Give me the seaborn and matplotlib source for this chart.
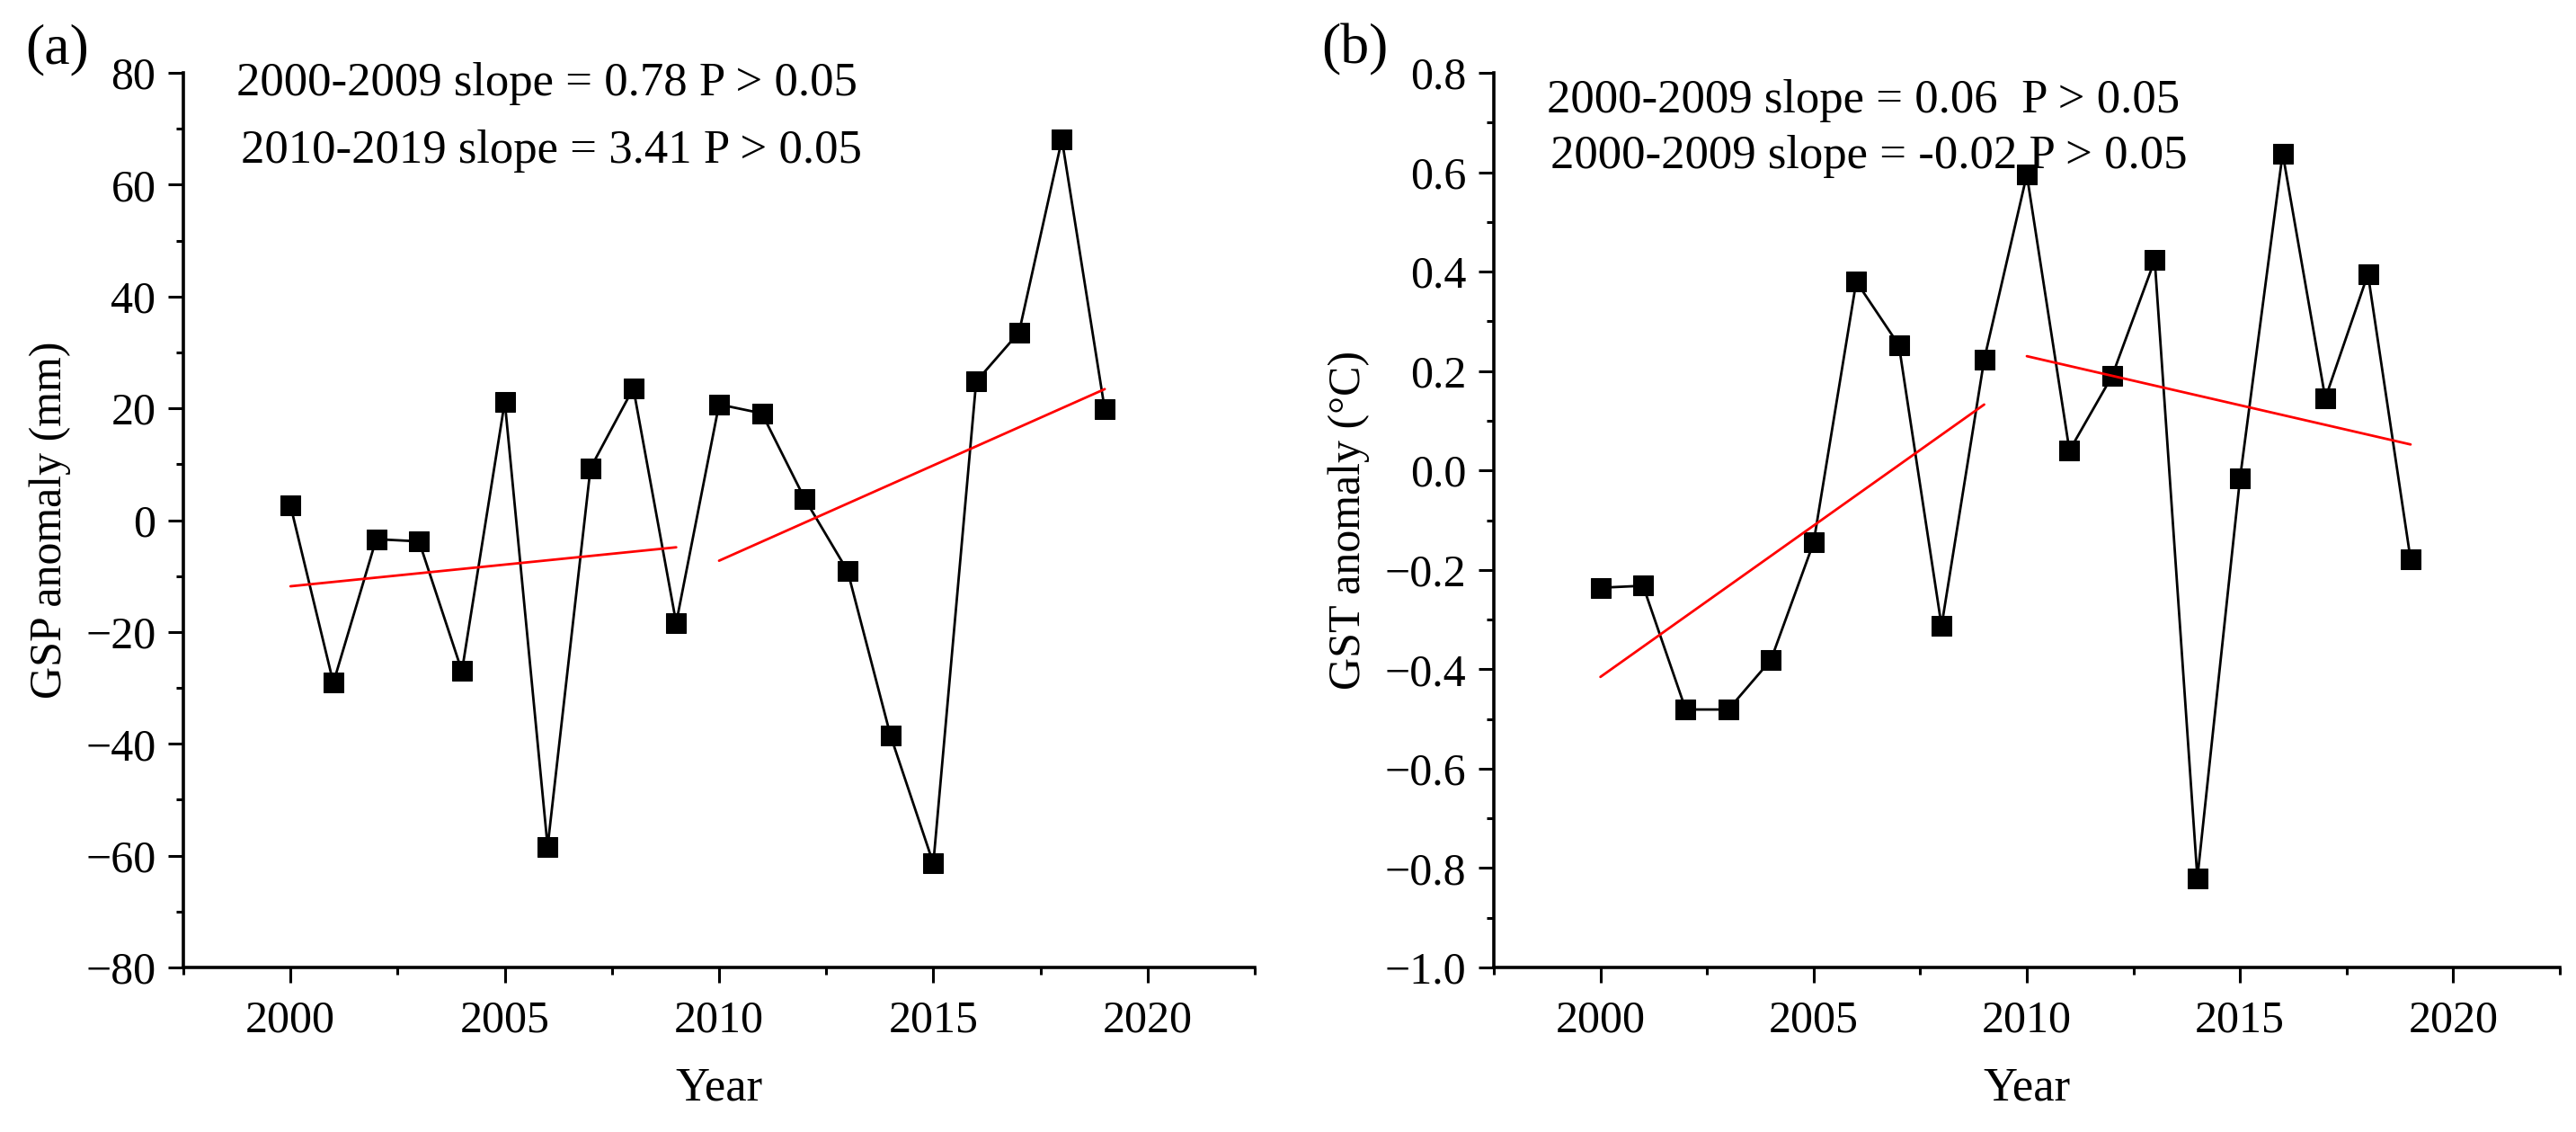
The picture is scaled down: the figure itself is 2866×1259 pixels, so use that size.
import pandas as pd
import matplotlib.pyplot as plt
import seaborn as sns
from matplotlib.ticker import MultipleLocator, FuncFormatter

# Growing-season anomalies
years = list(range(2000, 2020))
gsp_anomaly = [2.6, -29.1, -3.4, -3.8, -27.0, 21.2, -58.4, 9.3, 23.6, -18.4,
               20.7, 19.1, 3.8, -9.1, -38.5, -61.4, 24.8, 33.6, 68.1, 19.8]
gst_anomaly = [-0.236, -0.232, -0.481, -0.481, -0.381, -0.145, 0.380, 0.252, -0.313, 0.223,
               0.595, 0.040, 0.190, 0.423, -0.820, -0.016, 0.638, 0.145, 0.395, -0.179]

periods = [(2000, 2009), (2010, 2019)]
notes_a = ["2000-2009 slope = 0.78 P > 0.05", "2010-2019 slope = 3.41 P > 0.05"]
notes_b = ["2000-2009 slope = 0.06  P > 0.05", "2000-2009 slope = -0.02 P > 0.05"]

sns.set_theme(style="ticks")
plt.rcParams["font.family"] = ["Liberation Serif", "DejaVu Serif"]
plt.rcParams["axes.edgecolor"] = "black"
plt.rcParams["xtick.color"] = "black"
plt.rcParams["ytick.color"] = "black"
plt.rcParams["text.color"] = "black"
plt.rcParams["axes.labelcolor"] = "black"

df = pd.DataFrame({"year": years, "gsp": gsp_anomaly, "gst": gst_anomaly})

fig = plt.figure(figsize=(28.66, 12.59), dpi=100)
W, H = 2866, 1259


def px_axes(left, top, right, bottom):
    return fig.add_axes([left / W, 1 - bottom / H, (right - left) / W, (bottom - top) / H])


def minus(s):
    return s.replace("-", "\u2212")


def draw_panel(ax, col, ylim, ymajor, yminor, fmt, ylabel):
    sns.lineplot(data=df, x="year", y=col, ax=ax, color="black", linewidth=2.0,
                 marker="s", markersize=16, markeredgecolor="black", zorder=3)
    for start, end in periods:
        part = df[(df["year"] >= start) & (df["year"] <= end)]
        sns.regplot(data=part, x="year", y=col, ax=ax, scatter=False, ci=None,
                    color="red", line_kws={"linewidth": 2.0, "zorder": 4})
    ax.set_xlim(1997.5, 2022.5)
    ax.set_ylim(*ylim)
    ax.xaxis.set_major_locator(MultipleLocator(5))
    ax.xaxis.set_minor_locator(MultipleLocator(2.5))
    ax.yaxis.set_major_locator(MultipleLocator(ymajor))
    ax.yaxis.set_minor_locator(MultipleLocator(yminor))
    ax.yaxis.set_major_formatter(FuncFormatter(lambda v, p: minus(fmt.format(v))))
    ax.xaxis.set_major_formatter(FuncFormatter(lambda v, p: f"{v:.0f}"))
    ax.tick_params(which="major", length=12, width=2.2, labelsize=36, direction="out")
    ax.tick_params(axis="x", which="major", pad=14)
    ax.tick_params(axis="y", which="major", pad=10)
    ax.tick_params(which="minor", length=6, width=2.2, direction="out")
    sns.despine(ax=ax)
    for side in ["left", "bottom"]:
        ax.spines[side].set_linewidth(2.6)
    ax.set_xlabel("Year", fontsize=38, labelpad=20)
    ax.set_ylabel(ylabel, fontsize=36, labelpad=12)


ax_a = px_axes(204, 81, 1396, 1076)
draw_panel(ax_a, "gsp", (-80, 80), 20, 10, "{:.0f}", "GSP anomaly (mm)")
ax_b = px_axes(1662, 81, 2848, 1076)
draw_panel(ax_b, "gst", (-1.0, 0.8), 0.2, 0.1, "{:.1f}", "GST anomaly (\u00b0C)")

# slope notes
fig.text(263 / W, 1 - 93 / H, notes_a[0], fontsize=38, ha="left", va="center")
fig.text(268 / W, 1 - 168 / H, notes_a[1], fontsize=38, ha="left", va="center")
fig.text(1721 / W, 1 - 112 / H, notes_b[0], fontsize=38, ha="left", va="center")
fig.text(1725 / W, 1 - 174 / H, notes_b[1], fontsize=38, ha="left", va="center")

# panel letters
fig.text(64 / W, 1 - 55 / H, "(a)", fontsize=46, ha="center", va="center")
fig.text(1507 / W, 1 - 55 / H, "(b)", fontsize=46, ha="center", va="center")

plt.savefig("out.png", dpi=100)
